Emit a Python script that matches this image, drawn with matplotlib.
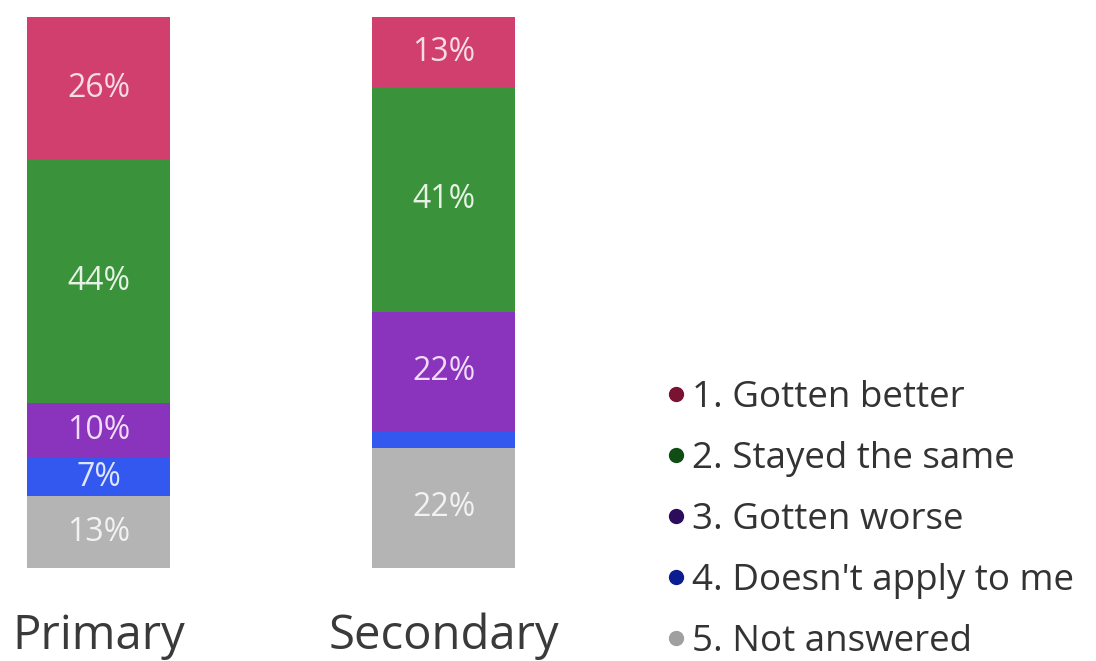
import matplotlib
matplotlib.use("Agg")
import matplotlib.pyplot as plt
from matplotlib.lines import Line2D
from matplotlib.transforms import blended_transform_factory
import numpy as np

plt.rcParams['font.family'] = ['Open Sans', 'DejaVu Sans']

groups = ["Primary", "Secondary"]
responses = ["1. Gotten better", "2. Stayed the same", "3. Gotten worse",
             "4. Doesn't apply to me", "5. Not answered"]
# percentages per response, stacked top to bottom as listed
primary = [26, 44, 10, 7, 13]
secondary = [13, 41, 22, 3, 22]
show_label = [[True, True, True, True, True],
              [True, True, True, False, True]]

bar_colors = ["#d13f6f", "#3a923a", "#8a33bd", "#3358f0", "#b4b4b4"]
dot_colors = ["#7a1232", "#0f4d15", "#2c0d5c", "#0c1d92", "#a0a0a0"]
label_colors = ["#f6dce6", "#e6f2e6", "#f0dcf8", "#dfe6ff", "#f2f2f2"]

W, H = 1096, 661
fig = plt.figure(figsize=(W / 100, H / 100), dpi=100)
ax = fig.add_axes([27 / W, 93 / H, (515 - 27) / W, 551 / H])

width = 0.414
data = np.array([primary, secondary], dtype=float)
for gi, vals in enumerate(data):
    total = vals.sum()
    top = 100.0
    for ri, v in enumerate(vals):
        h = v / total * 100
        ax.bar(gi, h, width=width, bottom=top - h, color=bar_colors[ri],
               edgecolor="none")
        if show_label[gi][ri]:
            ax.text(gi, top - h / 2, f"{int(v)}%", ha="center", va="center",
                    fontsize=23, color=label_colors[ri])
        top -= h

ax.set_xlim(-width / 2, 1 + width / 2)
ax.set_ylim(0, 100)
ax.axis("off")

# group names below the bars, close to the figure's bottom edge
name_tr = blended_transform_factory(ax.transData, fig.transFigure)
for gi, name in enumerate(groups):
    ax.text(gi, 1 - 649 / H, name, ha="center", va="baseline", fontsize=34,
            color="#3a3a3a", transform=name_tr, clip_on=False)

handles = [Line2D([], [], marker="o", linestyle="none", markersize=10,
                  markerfacecolor=c, markeredgecolor=c) for c in dot_colors]
fig.legend(handles, responses, loc="upper left",
           bbox_to_anchor=(668 / W, 1 - 380 / H), frameon=False,
           fontsize=26.5, labelcolor="#333333", handlelength=0.45,
           handletextpad=0.2, labelspacing=0.68, borderaxespad=0,
           borderpad=0)

fig.savefig("out.png", dpi=100, facecolor="white")
